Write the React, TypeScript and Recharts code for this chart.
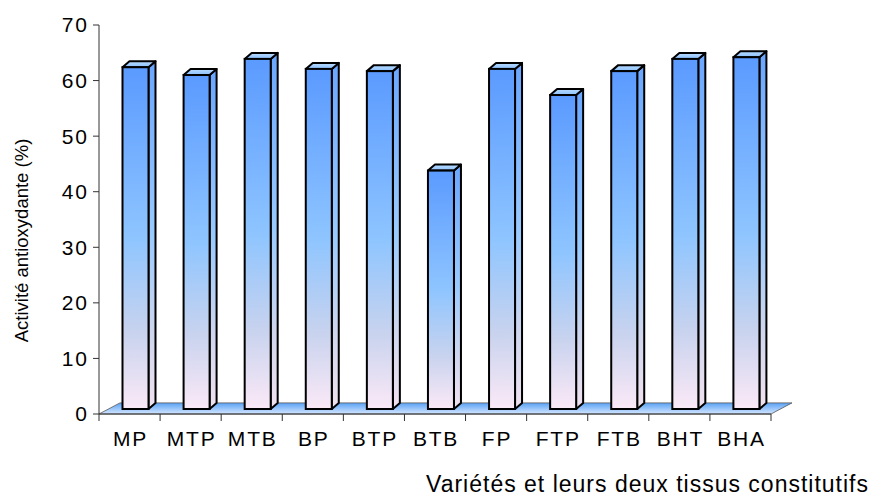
import { BarChart, Bar, XAxis, YAxis, ReferenceArea } from 'recharts'

const CATEGORIES = ['MP', 'MTP', 'MTB', 'BP', 'BTP', 'BTB', 'FP', 'FTP', 'FTB', 'BHT', 'BHA']
const ACTIVITY = [61.5, 60.1, 63.0, 61.2, 60.8, 42.9, 61.2, 56.5, 60.8, 63.0, 63.3]
const Y_TICKS = [0, 10, 20, 30, 40, 50, 60, 70]

const Y_TITLE = 'Activité antioxydante (%)'
const X_TITLE = 'Variétés et leurs deux tissus constitutifs'

const FONT = '"Liberation Sans", Arial, sans-serif'

const data = CATEGORIES.map((name, i) => ({ name, value: ACTIVITY[i] }))

// bars sit a bit behind the front axis plane, Excel 3D style
const SHIFT_X = 5.5
const SHIFT_Y = 5
const DEPTH_X = 7
const DEPTH_Y = 6

const Bar3D = (props: any) => {
	const { x, y, width, height } = props
	if (height == null || width == null) return null
	const fx = x + SHIFT_X
	const fy = y - SHIFT_Y
	const w = width
	const h = height
	const side = `M${fx + w},${fy} L${fx + w + DEPTH_X},${fy - DEPTH_Y} L${fx + w + DEPTH_X},${fy + h - DEPTH_Y} L${fx + w},${fy + h} Z`
	const top = `M${fx},${fy} L${fx + DEPTH_X},${fy - DEPTH_Y} L${fx + w + DEPTH_X},${fy - DEPTH_Y} L${fx + w},${fy} Z`
	return (
		<g>
			<path d={side} fill="url(#sideGrad)" stroke="#000" strokeWidth={2} strokeLinejoin="round" />
			<path d={top} fill="url(#topGrad)" stroke="#000" strokeWidth={2} strokeLinejoin="round" />
			<rect x={fx} y={fy} width={w} height={h} fill="url(#frontGrad)" stroke="#000" strokeWidth={2} />
		</g>
	)
}

// floor of the 3D plot: parallelogram going back from the x axis
const Floor = (props: any) => {
	const { x, y, width, height } = props
	if (x == null) return null
	const d = `M${x},${y + height} L${x + 21},${y} L${x + width + 21},${y} L${x + width},${y + height} Z`
	return <path d={d} fill="url(#floorGrad)" stroke="#555" strokeWidth={0.8} />
}

const CategoryTick = (props: any) => {
	const { x, y, payload, index, visibleTicksCount } = props
	const half = payload?.offset || 30.5
	const isLast = index === visibleTicksCount - 1
	return (
		<g>
			<line x1={x - half} y1={y} x2={x - half} y2={y + 7} stroke="#333" strokeWidth={1} />
			{isLast && <line x1={x + half} y1={y} x2={x + half} y2={y + 7} stroke="#333" strokeWidth={1} />}
			<text
				x={x + 1}
				y={y + 32}
				textAnchor="middle"
				fontFamily={FONT}
				fontSize={21}
				letterSpacing={1.8}
				fill="#000"
			>
				{payload.value}
			</text>
		</g>
	)
}

const App = () => {
	return (
		<div style={{ position: 'absolute', left: 0, top: 0, background: '#fff' }}>
			<BarChart
				width={875}
				height={501}
				data={data}
				margin={{ top: 25, right: 104, left: 0, bottom: 0 }}
				barSize={26}
			>
				<defs>
					<linearGradient id="frontGrad" x1="0" y1="0" x2="0" y2="1">
						<stop offset="0%" stopColor="#5b9aff" />
						<stop offset="50%" stopColor="#8ec5ff" />
						<stop offset="78%" stopColor="#c9d3ee" />
						<stop offset="100%" stopColor="#fbe9f7" />
					</linearGradient>
					<linearGradient id="sideGrad" x1="0" y1="0" x2="0" y2="1">
						<stop offset="0%" stopColor="#6aa6ff" />
						<stop offset="50%" stopColor="#9acbff" />
						<stop offset="78%" stopColor="#cfd6ee" />
						<stop offset="100%" stopColor="#f1e2f0" />
					</linearGradient>
					<linearGradient id="topGrad" x1="0" y1="0" x2="0" y2="1">
						<stop offset="0%" stopColor="#b8dcff" />
						<stop offset="100%" stopColor="#8cc0ff" />
					</linearGradient>
					<linearGradient id="floorGrad" x1="0" y1="0" x2="0" y2="1">
						<stop offset="0%" stopColor="#5aa2f5" />
						<stop offset="100%" stopColor="#d4e6ff" />
					</linearGradient>
				</defs>
				<XAxis
					dataKey="name"
					height={87}
					axisLine={{ stroke: '#333', strokeWidth: 1 }}
					tickLine={false}
					tickSize={0}
					tickMargin={0}
					interval={0}
					tick={<CategoryTick />}
					label={{
						content: (p: any) => {
							const vb = p.viewBox || { x: 99, y: 414, width: 672 }
							return (
								<text
									x={vb.x + vb.width + 98}
									y={vb.y + 78}
									textAnchor="end"
									fontFamily={FONT}
									fontSize={23}
									letterSpacing={1}
									fill="#000"
								>
									{X_TITLE}
								</text>
							)
						},
					}}
				/>
				<YAxis
					width={99}
					domain={[0, 70]}
					ticks={Y_TICKS}
					interval={0}
					axisLine={{ stroke: '#333', strokeWidth: 1 }}
					tickLine={{ stroke: '#333', strokeWidth: 1 }}
					tickSize={6}
					tickMargin={4}
					tick={{ fontFamily: FONT, fontSize: 21, fill: '#000', letterSpacing: 2 }}
					label={{
						content: (p: any) => {
							const vb = p.viewBox || { x: 0, y: 25, width: 99, height: 389 }
							const cx = vb.x + 21
							const cy = vb.y + vb.height / 2 + 21
							return (
								<text
									x={cx}
									y={cy}
									transform={`rotate(-90, ${cx}, ${cy})`}
									textAnchor="middle"
									dominantBaseline="central"
									fontFamily={FONT}
									fontSize={18.5}
									fill="#000"
								>
									{Y_TITLE}
								</text>
							)
						},
					}}
				/>
				<ReferenceArea
					x1={CATEGORIES[0]}
					x2={CATEGORIES[CATEGORIES.length - 1]}
					y1={0}
					y2={2}
					shape={<Floor />}
					ifOverflow="visible"
				/>
				<Bar dataKey="value" shape={<Bar3D />} isAnimationActive={false} />
			</BarChart>
		</div>
	)
}

export default App
